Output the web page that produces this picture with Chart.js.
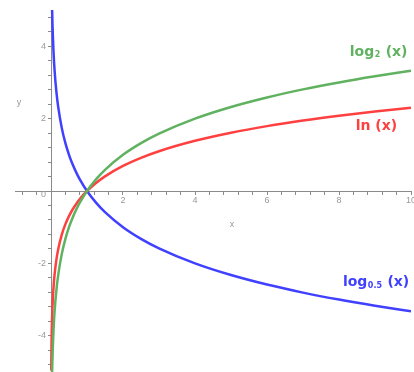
<!DOCTYPE html>
<html>
<head>
<meta charset="utf-8">
<script src="https://cdn.jsdelivr.net/npm/chart.js@4.4.1/dist/chart.umd.min.js"></script>
<style>
  html, body { margin: 0; padding: 0; background: #fff; }
  #wrap { width: 414px; height: 372px; }
</style>
</head>
<body>
<div id="wrap"><canvas id="c" width="414" height="372"></canvas></div>
<script>
// ---- data ----
const xLn   = [0.007, 0.01, 0.015, 0.02, 0.03, 0.04, 0.05, 0.07, 0.1, 0.15, 0.2, 0.3, 0.4, 0.5, 0.6, 0.7, 0.8, 1, 1.25, 1.5, 2, 2.5, 3, 4, 5, 6, 7, 8, 9, 10];
const yLn   = [-4.962, -4.605, -4.200, -3.912, -3.507, -3.219, -2.996, -2.659, -2.303, -1.897, -1.609, -1.204, -0.916, -0.693, -0.511, -0.357, -0.223, 0, 0.223, 0.405, 0.693, 0.916, 1.099, 1.386, 1.609, 1.792, 1.946, 2.079, 2.197, 2.303];

const xLog2 = [0.03125, 0.04, 0.05, 0.07, 0.1, 0.15, 0.2, 0.3, 0.4, 0.5, 0.6, 0.7, 0.8, 1, 1.25, 1.5, 2, 2.5, 3, 4, 5, 6, 7, 8, 9, 10];
const yLog2 = [-5, -4.644, -4.322, -3.837, -3.322, -2.737, -2.322, -1.737, -1.322, -1, -0.737, -0.515, -0.322, 0, 0.322, 0.585, 1, 1.322, 1.585, 2, 2.322, 2.585, 2.807, 3, 3.170, 3.322];

const xLogHalf = [0.03125, 0.04, 0.05, 0.07, 0.1, 0.15, 0.2, 0.3, 0.4, 0.5, 0.6, 0.7, 0.8, 1, 1.25, 1.5, 2, 2.5, 3, 4, 5, 6, 7, 8, 9, 10];
const yLogHalf = [5, 4.644, 4.322, 3.837, 3.322, 2.737, 2.322, 1.737, 1.322, 1, 0.737, 0.515, 0.322, 0, -0.322, -0.585, -1, -1.322, -1.585, -2, -2.322, -2.585, -2.807, -3, -3.170, -3.322];

const xTickLabels = [2, 4, 6, 8, 10];
const yTickLabels = [-4, -2, 0, 2, 4];

// ---- styling / layout ----
const GREEN = 'rgb(96,178,96)';
const RED = 'rgb(255,64,64)';
const BLUE = 'rgb(64,64,255)';
const AXIS = '#8a8a8a';
const TICKTXT = '#999999';
const TICKFONT = '9px "Liberation Sans", Arial, sans-serif';

function pts(xs, ys) { return xs.map((x, i) => ({ x: x, y: ys[i] })); }
function minorTicks(lo, hi) {
  const out = [];
  for (let k = Math.ceil(lo / 0.4 - 1e-9); k * 0.4 <= hi + 1e-9; k++) out.push({ value: Math.round(k * 4) / 10 });
  return out;
}
function isIn(v, arr) { return arr.some(a => Math.abs(a - v) < 1e-6); }

const curveLabels = [
  { main: 'log', sub: '2', tail: ' (x)', x: 9.10, y: 3.83, color: GREEN },
  { main: 'ln', sub: '', tail: ' (x)', x: 9.04, y: 1.78, color: RED },
  { main: 'log', sub: '0.5', tail: ' (x)', x: 9.03, y: -2.53, color: BLUE }
];

const textPlugin = {
  id: 'texts',
  afterDatasetsDraw(chart) {
    const ctx = chart.ctx;
    const sx = chart.scales.x, sy = chart.scales.y;
    ctx.save();
    ctx.textBaseline = 'middle';
    curveLabels.forEach(l => {
      const big = 'bold 14px "DejaVu Sans", sans-serif';
      const small = 'bold 8px "DejaVu Sans", sans-serif';
      ctx.font = big; const w1 = ctx.measureText(l.main).width; const w3 = ctx.measureText(l.tail).width;
      ctx.font = small; const w2 = l.sub ? ctx.measureText(l.sub).width + 1 : 0;
      const total = w1 + w2 + w3;
      let px = sx.getPixelForValue(l.x) - total / 2;
      const py = sy.getPixelForValue(l.y);
      ctx.fillStyle = l.color;
      ctx.textAlign = 'left';
      ctx.font = big; ctx.fillText(l.main, px, py); px += w1;
      if (l.sub) { ctx.font = small; ctx.fillText(l.sub, px + 0.5, py + 3); px += w2; }
      ctx.font = big; ctx.fillText(l.tail, px, py);
    });
    // y tick labels (left of the axis)
    ctx.fillStyle = TICKTXT;
    ctx.font = TICKFONT;
    ctx.textAlign = 'right';
    const ax = sx.getPixelForValue(0);
    yTickLabels.forEach(v => {
      const py = sy.getPixelForValue(v) + (v === 0 ? 4 : 0);
      ctx.fillText(String(v), ax - 5, py);
    });
    // axis names
    ctx.textAlign = 'center';
    ctx.fillText('x', sx.getPixelForValue(5.03), sy.getPixelForValue(-0.93));
    ctx.fillText('y', sx.getPixelForValue(-0.89), sy.getPixelForValue(2.45));
    ctx.restore();
  }
};

const lineDs = (label, data, color) => ({
  label, data,
  showLine: true, borderColor: color, backgroundColor: color,
  borderWidth: 2.5, pointRadius: 0, pointHoverRadius: 0,
  cubicInterpolationMode: 'monotone', fill: false
});

new Chart(document.getElementById('c'), {
  type: 'scatter',
  data: {
    datasets: [
      lineDs('log2 (x)', pts(xLog2, yLog2), GREEN),
      lineDs('ln (x)', pts(xLn, yLn), RED),
      lineDs('log0.5 (x)', pts(xLogHalf, yLogHalf), BLUE)
    ]
  },
  plugins: [textPlugin],
  options: {
    responsive: false,
    animation: false,
    events: [],
    layout: { padding: { left: 15, right: 3, top: 10, bottom: 0 } },
    plugins: { legend: { display: false }, tooltip: { enabled: false } },
    scales: {
      x: {
        type: 'linear', min: -1, max: 10,
        position: { y: 0 },
        afterFit: s => { s.height = 0; s.paddingLeft = 0; s.paddingRight = 0; },
        afterBuildTicks: s => { s.ticks = minorTicks(-1, 10); },
        grid: { display: true, drawOnChartArea: false, drawTicks: true, tickLength: 3, color: AXIS },
        border: { display: true, color: AXIS, width: 1 },
        ticks: {
          autoSkip: false, maxRotation: 0, padding: 1,
          color: TICKTXT, font: { size: 9, family: '"Liberation Sans", Arial, sans-serif' },
          callback: v => (isIn(v, xTickLabels) ? String(v) : '')
        }
      },
      y: {
        type: 'linear', min: -5, max: 5,
        position: { x: 0 },
        afterFit: s => { s.width = 0; s.paddingTop = 0; s.paddingBottom = 0; },
        afterBuildTicks: s => { s.ticks = minorTicks(-5, 5); },
        grid: { display: true, drawOnChartArea: false, drawTicks: true, tickLength: 3, color: AXIS },
        border: { display: true, color: AXIS, width: 1 },
        ticks: { display: false }
      }
    }
  }
});
</script>
</body>
</html>
